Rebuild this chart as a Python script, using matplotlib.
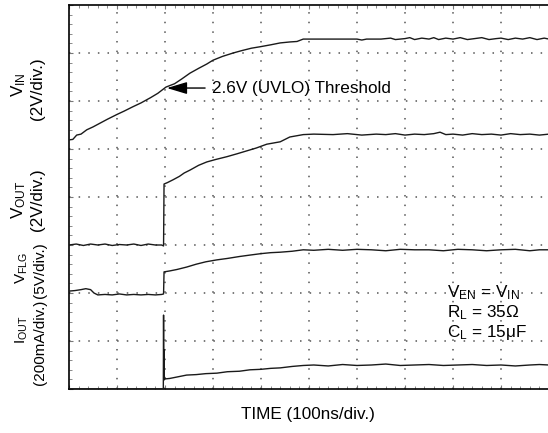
import numpy as np
import matplotlib
matplotlib.use("Agg")
import matplotlib.pyplot as plt
from matplotlib.ticker import MultipleLocator

plt.rcParams['font.family'] = ['Liberation Sans', 'DejaVu Sans']
plt.rcParams['mathtext.fontset'] = 'custom'
plt.rcParams['mathtext.rm'] = 'Liberation Sans'
plt.rcParams['mathtext.it'] = 'Liberation Sans'

# all values in scope divisions (x: 0..10, y: 0..8 from the bottom)
vin_x = [0, 0.08, 0.16, 0.25, 0.37, 0.5, 0.65, 0.8, 1.0, 1.15, 1.33, 1.5, 1.7, 1.85,
         2.02, 2.2, 2.35, 2.52, 2.7, 2.87, 3.0, 3.2, 3.42, 3.6, 3.8, 3.98, 4.2, 4.4,
         4.6, 4.75, 4.88, 5.0, 5.5, 6.0, 6.1, 6.2, 6.5, 6.7, 6.8, 7.0, 7.1, 7.2, 7.35,
         7.5, 7.6, 7.7, 7.85, 8.0, 8.15, 8.3, 8.45, 8.6, 8.75, 8.9, 9.0, 9.15, 9.3,
         9.45, 9.6, 9.75, 9.9, 10.0]
vin_y = [5.19, 5.2, 5.29, 5.31, 5.40, 5.46, 5.54, 5.62, 5.72, 5.79, 5.88, 5.96, 6.07, 6.16,
         6.29, 6.36, 6.46, 6.58, 6.68, 6.77, 6.85, 6.93, 7.0, 7.05, 7.1, 7.13, 7.17, 7.21,
         7.23, 7.24, 7.29, 7.29, 7.29, 7.29, 7.27, 7.29, 7.29, 7.31, 7.28, 7.3, 7.32, 7.28, 7.31,
         7.29, 7.32, 7.28, 7.31, 7.29, 7.32, 7.28, 7.3, 7.32, 7.28, 7.3, 7.31, 7.28, 7.31,
         7.29, 7.32, 7.28, 7.31, 7.29]

vout_x = [0, 0.15, 0.3, 0.45, 0.6, 0.75, 0.9, 1.05, 1.2, 1.35, 1.5, 1.65, 1.8, 1.93,
          1.97, 1.98, 2.05, 2.17, 2.3, 2.4, 2.52, 2.7, 2.87, 3.05, 3.29, 3.5, 3.7, 3.9,
          4.12, 4.4, 4.6, 4.88, 5.1, 5.5, 5.8, 6.1, 6.4, 6.6, 6.8, 7.0, 7.2, 7.4, 7.6,
          7.73, 7.85, 8.0, 8.2, 8.4, 8.6, 8.8, 9.0, 9.2, 9.4, 9.6, 9.8, 10.0]
vout_y = [3.0, 3.02, 2.99, 3.02, 3.0, 3.02, 2.99, 3.01, 3.0, 3.02, 2.99, 3.02, 3.0, 3.0,
          2.98, 4.27, 4.3, 4.36, 4.43, 4.5, 4.56, 4.66, 4.73, 4.78, 4.84, 4.9, 4.96, 5.02,
          5.1, 5.15, 5.25, 5.3, 5.31, 5.3, 5.32, 5.29, 5.31, 5.3, 5.32, 5.29, 5.31, 5.3, 5.32,
          5.35, 5.3, 5.31, 5.29, 5.32, 5.3, 5.31, 5.29, 5.32, 5.3, 5.31, 5.29, 5.31]

vflg_x = [0, 0.12, 0.25, 0.35, 0.45, 0.52, 0.6, 0.75, 0.9, 1.05, 1.2, 1.35, 1.5, 1.65,
          1.8, 1.93, 1.97, 1.98, 2.1, 2.25, 2.45, 2.65, 2.85, 3.08, 3.3, 3.55, 3.77, 4.0,
          4.2, 4.4, 4.65, 4.88, 5.1, 5.4, 5.7, 6.0, 6.3, 6.6, 6.9, 7.2, 7.5, 7.8, 8.1,
          8.4, 8.7, 9.0, 9.3, 9.6, 9.8, 10.0]
vflg_y = [2.04, 2.05, 2.07, 2.09, 2.07, 2.0, 1.96, 1.97, 1.96, 1.98, 1.96, 1.97, 1.96, 1.97,
          1.96, 1.97, 1.98, 2.44, 2.46, 2.49, 2.54, 2.6, 2.65, 2.69, 2.72, 2.76, 2.79, 2.82,
          2.84, 2.85, 2.87, 2.9, 2.89, 2.91, 2.89, 2.91, 2.9, 2.88, 2.91, 2.9, 2.9, 2.88, 2.91,
          2.9, 2.88, 2.9, 2.91, 2.88, 2.9, 2.9]

iout_x = [0, 1.965, 1.97, 1.975, 1.98, 1.985, 1.99, 2.0, 2.1, 2.25, 2.45, 2.65, 2.85,
          3.08, 3.3, 3.55, 3.77, 4.0, 4.2, 4.4, 4.65, 4.88, 5.1, 5.4, 5.7, 6.0, 6.3,
          6.6, 6.9, 7.2, 7.5, 7.8, 8.1, 8.4, 8.7, 9.0, 9.3, 9.6, 9.8, 10.0]
iout_y = [0, 0, 1.54, 0.2, 0.82, 0.19, 0.25, 0.21, 0.22, 0.25, 0.29, 0.3, 0.32,
          0.33, 0.36, 0.37, 0.4, 0.41, 0.43, 0.44, 0.47, 0.49, 0.5, 0.48, 0.51, 0.49, 0.5,
          0.52, 0.49, 0.5, 0.51, 0.49, 0.5, 0.51, 0.49, 0.5, 0.48, 0.5, 0.51, 0.5]

traces = [(vin_x, vin_y), (vout_x, vout_y), (vflg_x, vflg_y), (iout_x, iout_y)]

W, H = 548, 433
fig = plt.figure(figsize=(W / 100, H / 100), dpi=100)
ax = fig.add_axes([69 / W, (H - 389) / H, 480 / W, 384 / H])

for tx, ty in traces:
    ax.plot(tx, ty, color='#1a1a1a', lw=1.0, zorder=3)

ax.set_xlim(0, 10)
ax.set_ylim(0, 8)

# scope graticule: a dot every 1/5 division along each major line
dots = (0, (1, 5.3))
for gx in range(1, 10):
    ax.plot([gx, gx], [0, 8], color='#555555', lw=1.1, ls=dots, zorder=1)
for gy in range(1, 8):
    ax.plot([0, 10], [gy, gy], color='#555555', lw=1.1, ls=dots, zorder=1)

ax.xaxis.set_major_locator(MultipleLocator(1))
ax.yaxis.set_major_locator(MultipleLocator(1))
ax.xaxis.set_minor_locator(MultipleLocator(0.2))
ax.yaxis.set_minor_locator(MultipleLocator(0.2))
ax.tick_params(which='both', direction='in', top=True, right=False,
               labelbottom=False, labelleft=False, color='#777777')
ax.tick_params(which='major', length=3)
ax.tick_params(which='minor', length=2)
ax.spines['right'].set_visible(False)
for s in ['left', 'top', 'bottom']:
    ax.spines[s].set_linewidth(1.2)

fs = 12.3
ax.annotate('2.6V (UVLO) Threshold', xy=(2.04, 6.27), xytext=(2.98, 6.27),
            va='center', ha='left', fontsize=fs,
            arrowprops=dict(arrowstyle='-|>,head_length=1.0,head_width=0.3',
                            color='black', lw=1.0, shrinkA=3, shrinkB=0))

ax.text(7.875, 2.0, r'V$_{\mathregular{EN}}$ = V$_{\mathregular{IN}}$', fontsize=fs, va='center')
ax.text(7.875, 1.6, r'R$_{\mathregular{L}}$ = 35$\mathregular{\Omega}$', fontsize=fs, va='center')
ax.text(7.875, 1.17, r'C$_{\mathregular{L}}$ = 15$\mathregular{\mu}$F', fontsize=fs, va='center')

fig.text(308 / W, 1 - 415 / H, 'TIME (100ns/div.)', fontsize=fs, ha='center', va='center')

def ylab(x, y, s, size=fs):
    fig.text(x / W, 1 - y / H, s, fontsize=size, rotation=90, ha='center', va='center')

ylab(19, 85, r'V$_{\mathregular{IN}}$')
ylab(38, 89, '(2V/div.)')
ylab(19, 200, r'V$_{\mathregular{OUT}}$')
ylab(38, 200, '(2V/div.)')
ylab(22, 268, r'V$_{\mathregular{FLG}}$', 11)
ylab(40, 270, '(5V/div.)', 11)
ylab(22, 330, r'I$_{\mathregular{OUT}}$', 11)
ylab(40, 342, '(200mA/div.)', 11)

fig.savefig('out.png', dpi=100)
